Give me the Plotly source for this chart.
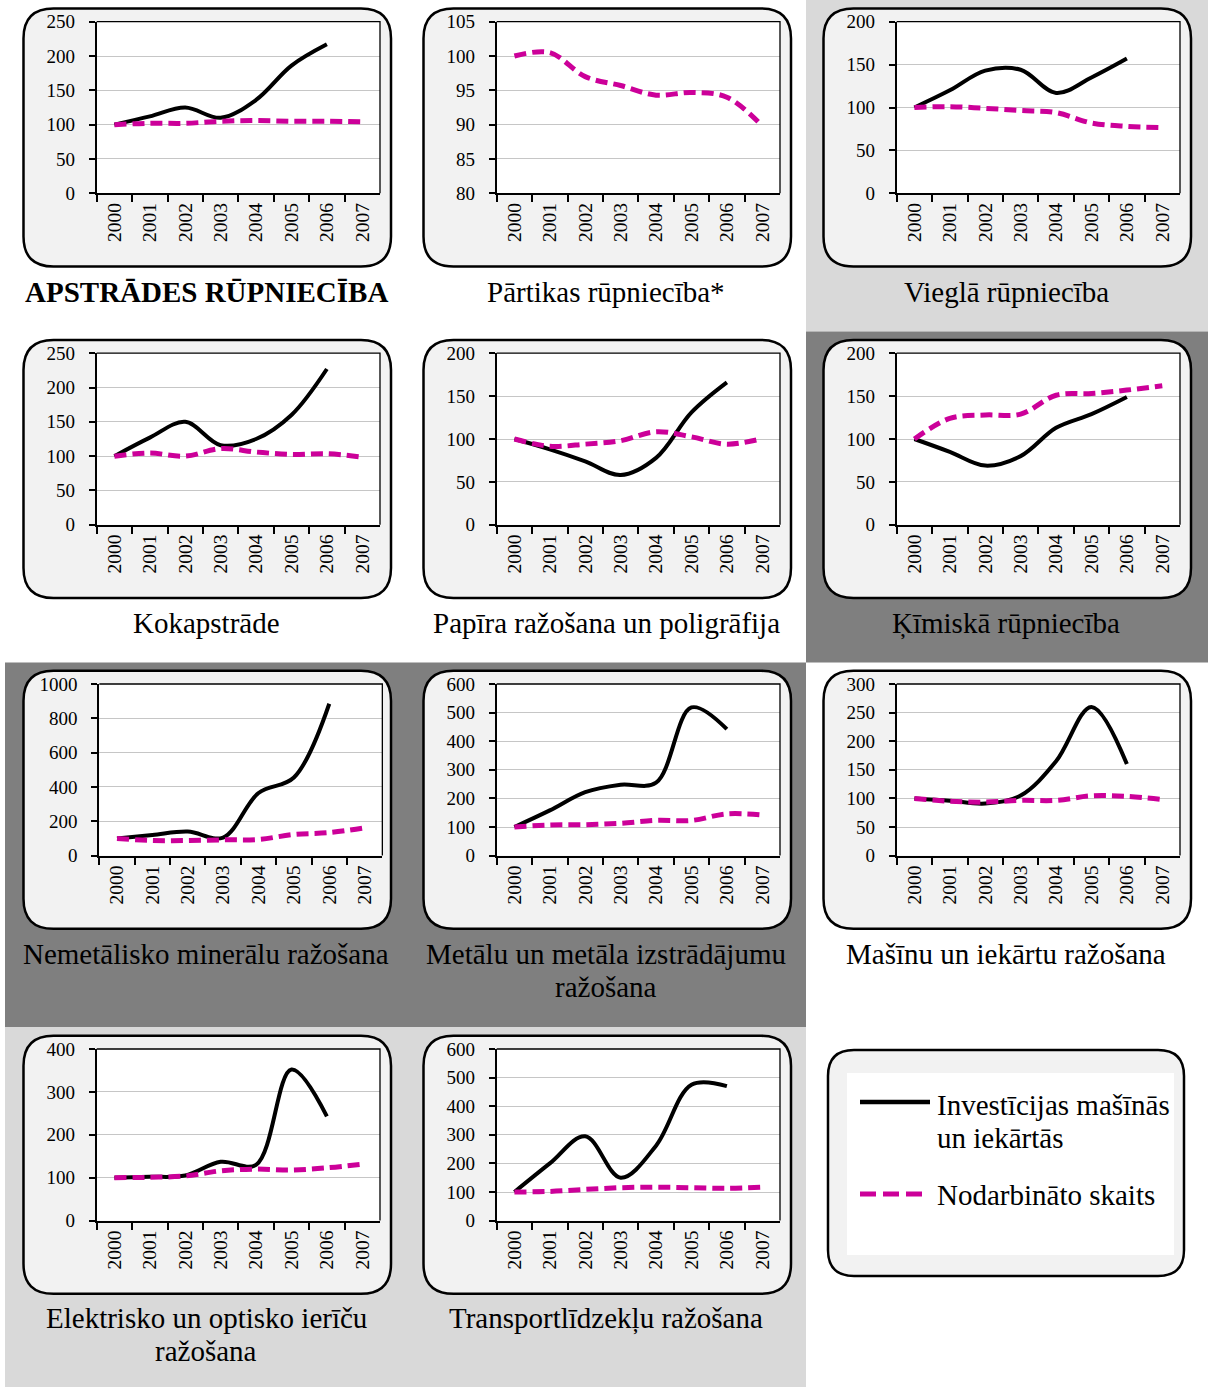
import plotly.graph_objects as go

W, H = 1208, 1387
FONT = "Liberation Serif"

years = ['2000', '2001', '2002', '2003', '2004', '2005', '2006', '2007']

titles = [
    "<b>APSTRĀDES RŪPNIECĪBA</b>",
    "Pārtikas rūpniecība*",
    "Vieglā rūpniecība",
    "Kokapstrāde",
    "Papīra ražošana un poligrāfija",
    "Ķīmiskā rūpniecība",
    "Nemetālisko minerālu ražošana",
    "Metālu un metāla izstrādājumu<br>ražošana",
    "Mašīnu un iekārtu ražošana",
    "Elektrisko un optisko ierīču<br>ražošana",
    "Transportlīdzekļu ražošana",
]

# Investīcijas mašīnās un iekārtās (2000-2006)
inv_apstrades = [100, 112, 125, 110, 136, 186, 217]
inv_partikas = None
inv_viegla = [100, 120, 143, 144, 117, 135, 157]
inv_koka = [100, 127, 150, 116, 125, 160, 227]
inv_papira = [100, 88, 74, 58, 78, 131, 166]
inv_kimiska = [100, 85, 69, 80, 113, 129, 149]
inv_nemetal = [100, 120, 140, 105, 365, 455, 885]
inv_metalu = [100, 158, 222, 248, 255, 518, 442]
inv_masinu = [100, 96, 91, 105, 165, 260, 160]
inv_elektr = [100, 102, 105, 137, 130, 352, 243]
inv_transp = [100, 200, 295, 150, 262, 475, 470]

# Nodarbināto skaits (2000-2007)
emp_apstrades = [100, 102, 102, 105, 106, 105, 105, 104]
emp_partikas = [100, 100.5, 97, 95.7, 94.3, 94.7, 94, 89.8]
emp_viegla = [100, 101, 99, 96.5, 94, 82, 78, 76.5]
emp_koka = [100, 104.5, 100, 111, 106, 102.5, 103.5, 98.5]
emp_papira = [100, 91.5, 94, 98, 108.5, 102.5, 94, 100.5]
emp_kimiska = [100, 124, 128, 129, 151, 153, 157, 162]
emp_nemetal = [100, 88, 88, 92, 94, 123, 134, 162]
emp_metalu = [100, 107, 108, 113, 123, 123, 146, 142]
emp_masinu = [100, 95, 93.5, 96.5, 96.5, 104.5, 103.5, 98]
emp_elektr = [100, 101, 104, 116, 120, 118, 123, 131.5]
emp_transp = [100, 102, 109, 115, 117, 115, 113, 117]

investments = [inv_apstrades, inv_partikas, inv_viegla, inv_koka, inv_papira, inv_kimiska,
               inv_nemetal, inv_metalu, inv_masinu, inv_elektr, inv_transp]
employment = [emp_apstrades, emp_partikas, emp_viegla, emp_koka, emp_papira, emp_kimiska,
              emp_nemetal, emp_metalu, emp_masinu, emp_elektr, emp_transp]

y_min = [0, 80, 0, 0, 0, 0, 0, 0, 0, 0, 0]
y_max = [250, 105, 200, 250, 200, 200, 1000, 600, 300, 400, 600]
y_step = [50, 5, 50, 50, 50, 50, 200, 100, 50, 100, 100]

legend_names = ["Investīcijas mašīnās<br>un iekārtās", "Nodarbināto skaits"]

# ---------------- layout geometry (pixels) ----------------
row_off = [0, 331.5, 662.3, 1027.3]
col_off = [0, 400, 800]
plot_left_extra = [0, 0, 0, 0, 0, 0, 2.6, 0, 0, 0, 0]
title_y = [292, 292, 292, 623, 623, 623, 954, 954, 954, 1318, 1318]
LINE_GAP = 33
TITLE_FS = 29
TICK_FS_Y = 19
TICK_FS_X = 19.5

BLACK = "#000000"
PINK = "#cc0099"


def px(x):
    return x / W


def py(y):
    return 1 - y / H


def rpath(x0, y0, x1, y1, r):
    pts = [
        ("M", [(x0 + r, y0)]), ("L", [(x1 - r, y0)]), ("Q", [(x1, y0), (x1, y0 + r)]),
        ("L", [(x1, y1 - r)]), ("Q", [(x1, y1), (x1 - r, y1)]), ("L", [(x0 + r, y1)]),
        ("Q", [(x0, y1), (x0, y1 - r)]), ("L", [(x0, y0 + r)]), ("Q", [(x0, y0), (x0 + r, y0)]),
    ]
    s = ""
    for cmd, cs in pts:
        s += cmd + " " + " ".join(f"{px(a):.5f},{py(b):.5f}" for a, b in cs) + " "
    return s + "Z"


fig = go.Figure()
shapes = []
annotations = []


def bg(x0, y0, x1, y1, color):
    shapes.append(dict(type="rect", xref="paper", yref="paper", x0=px(x0), x1=px(x1),
                       y0=py(y1), y1=py(y0), fillcolor=color, line=dict(width=0), layer="below"))


def text_lines(text, x, y_center, anchor="center", size=TITLE_FS):
    for k, line in enumerate(text.split("<br>")):
        if line.startswith("<b>") and not line.endswith("</b>"):
            line += "</b>"
        annotations.append(dict(text=line, xref="paper", yref="paper", x=px(x),
                                y=py(y_center + k * LINE_GAP), xanchor=anchor, yanchor="middle",
                                showarrow=False, font=dict(family=FONT, size=size, color=BLACK)))


bg(806, 0, 1208, 331.5, "#d9d9d9")
bg(806, 331.5, 1208, 662.5, "#7f7f7f")
bg(5, 662.5, 806, 1027, "#7f7f7f")
bg(5, 1027, 806, 1387, "#d9d9d9")

for i in range(11):
    r, c = divmod(i, 3)
    ro, co = row_off[r], col_off[c]
    shapes.append(dict(type="path", xref="paper", yref="paper",
                       path=rpath(co + 23.5, ro + 8.5, co + 391, ro + 266.5, 30),
                       fillcolor="#f2f2f2", line=dict(color=BLACK, width=2.5), layer="below"))
    left = co + 96.7 + plot_left_extra[i]
    right = co + 380 + plot_left_extra[i] * 0.9
    top = ro + 21.7
    bot = ro + 193.3
    shapes.append(dict(type="rect", xref="paper", yref="paper", x0=px(left), x1=px(right),
                       y0=py(bot), y1=py(top), fillcolor="white", line=dict(width=0), layer="below"))
    shapes.append(dict(type="path", xref="paper", yref="paper",
                       path=f"M {px(left)},{py(top)} L {px(right)},{py(top)} L {px(right)},{py(bot)}",
                       line=dict(color=BLACK, width=1.3), layer="above"))

    sfx = "" if i == 0 else str(i + 1)
    xa, ya = "x" + sfx, "y" + sfx
    fig.update_layout(**{
        "xaxis" + sfx: dict(
            domain=[px(left), px(right)], anchor=ya, type="category", automargin=False,
            categoryorder="array", categoryarray=years, range=[-0.5, 7.5],
            tickson="boundaries", ticks="outside", ticklen=7, tickwidth=1.5, tickcolor=BLACK,
            showline=True, linecolor=BLACK, linewidth=2, showgrid=False, tickangle=-90,
            tickfont=dict(family=FONT, size=TICK_FS_X, color=BLACK), fixedrange=True,
        ),
        "yaxis" + sfx: dict(
            domain=[py(bot), py(top)], anchor=xa, range=[y_min[i], y_max[i]], automargin=False,
            tick0=y_min[i], dtick=y_step[i], showgrid=True, gridcolor="#c6c6c6", gridwidth=1.2,
            ticks="outside", ticklen=6, tickwidth=1.5, tickcolor=BLACK,
            showline=True, linecolor=BLACK, linewidth=2, zeroline=False,
            tickfont=dict(family=FONT, size=TICK_FS_Y, color=BLACK), ticklabelstandoff=10,
            fixedrange=True,
        ),
    })

    if investments[i] is not None:
        fig.add_trace(go.Scatter(x=years[:len(investments[i])], y=investments[i], mode="lines",
                                 xaxis=xa, yaxis=ya, showlegend=False, name=legend_names[0],
                                 line=dict(color=BLACK, width=4, shape="spline", smoothing=1)))
    fig.add_trace(go.Scatter(x=years[:len(employment[i])], y=employment[i], mode="lines",
                             xaxis=xa, yaxis=ya, showlegend=False, name=legend_names[1],
                             line=dict(color=PINK, width=5, dash="12px,6px", shape="spline",
                                       smoothing=1)))

    text_lines(titles[i], co + 206, title_y[i])

# legend box
shapes.append(dict(type="path", xref="paper", yref="paper",
                   path=rpath(828, 1050, 1184, 1276, 26),
                   fillcolor="#f2f2f2", line=dict(color=BLACK, width=2.5), layer="below"))
shapes.append(dict(type="rect", xref="paper", yref="paper", x0=px(847), x1=px(1174),
                   y0=py(1255), y1=py(1073), fillcolor="white", line=dict(width=0), layer="below"))
shapes.append(dict(type="line", xref="paper", yref="paper", x0=px(860), x1=px(930),
                   y0=py(1102), y1=py(1102), line=dict(color=BLACK, width=4.5), layer="above"))
shapes.append(dict(type="line", xref="paper", yref="paper", x0=px(860), x1=px(922),
                   y0=py(1194), y1=py(1194), line=dict(color=PINK, width=5, dash="16px,7px"),
                   layer="above"))
text_lines(legend_names[0], 935, 1105, anchor="left")
text_lines(legend_names[1], 935, 1195, anchor="left")

fig.update_layout(width=W, height=H, margin=dict(l=0, r=0, t=0, b=0, autoexpand=False),
                  autosize=False, paper_bgcolor="white", plot_bgcolor="rgba(0,0,0,0)",
                  shapes=shapes, annotations=annotations, showlegend=False,
                  font=dict(family=FONT, color=BLACK))

post = (
    "document.body.style.margin='0px';"
    "document.documentElement.style.overflow='hidden';"
    "document.body.style.overflow='hidden';"
    "var gd=document.getElementById('{plot_id}');"
    "gd.style.position='fixed';gd.style.top='0px';gd.style.left='0px';"
)
fig.write_html("out.html", post_script=post, config={"displayModeBar": False})
